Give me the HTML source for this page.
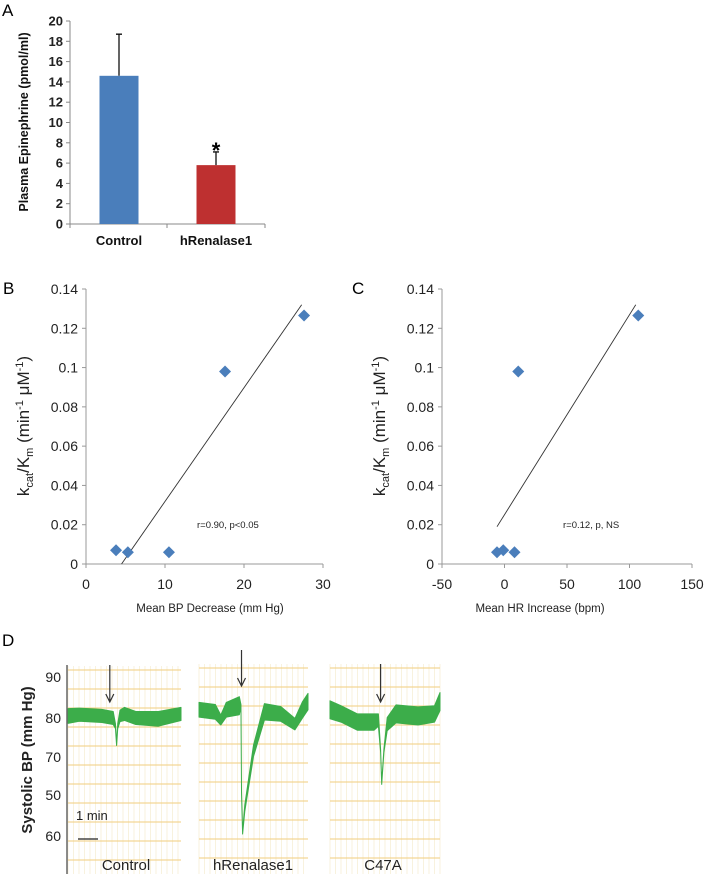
<!DOCTYPE html>
<html><head><meta charset="utf-8"><style>
html,body{margin:0;padding:0;background:#fff;}
svg{display:block;font-family:"Liberation Sans",Arial,sans-serif;}
</style></head><body>
<svg id="fig" width="707" height="874" viewBox="0 0 707 874" xmlns="http://www.w3.org/2000/svg">
<text x="2" y="16" font-size="17">A</text>
<text x="3" y="294" font-size="17">B</text>
<text x="352" y="294" font-size="17">C</text>
<text x="2" y="646" font-size="17">D</text>
<g id="pa"></g>
<g id="pb"></g>
<g id="pc"></g>
<g id="pd"></g>
</svg>
<script>
// Panel A data
const aCategories = ["Control", "hRenalase1"];
const aValues = [14.6, 5.8];
const aErrors = [4.1, 1.3];
const aColors = ["#4a7ebb", "#be3030"];
const aTicks = [0, 2, 4, 6, 8, 10, 12, 14, 16, 18, 20];
// Panel B data
const bX = [3.8, 5.3, 10.5, 17.6, 27.6];
const bY = [0.007, 0.006, 0.006, 0.098, 0.1265];
const bXTicks = [0, 10, 20, 30];
const bFit = [[4.5, 0], [27.3, 0.132]];
// Panel C data
const cX = [-6, -1, 8, 11, 107];
const cY = [0.006, 0.007, 0.006, 0.098, 0.1265];
const cXTicks = [-50, 0, 50, 100, 150];
const cFit = [[-6, 0.019], [105, 0.132]];
const yTicksBC = [0, 0.02, 0.04, 0.06, 0.08, 0.1, 0.12, 0.14];
// Panel D data (time fraction, mmHg centre, mmHg band half-width)
const dLabels = ["Control", "hRenalase1", "C47A"];
const dTicks = [90, 80, 70, 50, 60];
const dTrace0T = [0, 0.1, 0.3, 0.4, 0.42, 0.43, 0.44, 0.46, 0.5, 0.6, 0.8, 1];
const dTrace0V = [80.5, 80.8, 80.5, 80, 78, 73.5, 78, 80.5, 81, 80, 79.8, 81];
const dTrace0W = [1.8, 1.6, 1.6, 1.6, 0.6, 0.2, 0.6, 1.4, 1.6, 1.6, 1.8, 1.6];
const dTrace1T = [0, 0.15, 0.2, 0.25, 0.37, 0.385, 0.39, 0.4, 0.42, 0.5, 0.6, 0.75, 0.88, 0.95, 1];
const dTrace1V = [82, 81.5, 79.5, 82, 83, 83, 62, 52, 58, 72, 81.5, 81, 78.5, 82, 84];
const dTrace1W = [1.8, 1.8, 1.2, 1.8, 2.2, 0.3, 0.2, 0.3, 0.8, 1.4, 2, 1.8, 1.4, 2, 2];
const dTrace2T = [0, 0.1, 0.25, 0.4, 0.44, 0.46, 0.47, 0.49, 0.52, 0.6, 0.8, 0.95, 1];
const dTrace2V = [82, 81, 79, 79, 79.5, 72, 64, 72, 78.5, 81, 80.5, 81, 84];
const dTrace2W = [2.2, 2, 2, 2, 1.5, 0.3, 0.2, 0.4, 1.6, 2.2, 2.2, 2, 2.2];

const NS = "http://www.w3.org/2000/svg";
function mk(parent, tag, attrs, text) {
  const e = document.createElementNS(NS, tag);
  for (const k in attrs) e.setAttribute(k, attrs[k]);
  if (text !== undefined) e.textContent = text;
  parent.appendChild(e);
  return e;
}

// ---- Panel A ----
(function () {
  const g = document.getElementById("pa");
  const x0 = 70, y0 = 224, yTop = 21, xEnd = 265;
  const ys = v => y0 - (v / 20) * (y0 - yTop);
  let e = mk(g, "line", { x1: x0, y1: yTop, x2: x0, y2: y0, stroke: "#888", "stroke-width": 1 });
   
  e = mk(g, "line", { x1: x0, y1: y0, x2: xEnd, y2: y0, stroke: "#888", "stroke-width": 1 });
   
  aTicks.forEach(t => {
    mk(g, "line", { x1: x0 - 4, y1: ys(t), x2: x0, y2: ys(t), stroke: "#888" });
    const l = mk(g, "text", { x: x0 - 7, y: ys(t) + 4.5, "font-size": 13, "font-weight": "bold", "text-anchor": "end", fill: "#222" }, t);
     
  });
  [x0, 167, xEnd].forEach(x => mk(g, "line", { x1: x, y1: y0, x2: x, y2: y0 + 4, stroke: "#888" }));
  const centers = [119, 216];
  aCategories.forEach((c, i) => {
    const cx = centers[i], w = 39;
    const b = mk(g, "rect", { x: cx - w / 2, y: ys(aValues[i]), width: w, height: y0 - ys(aValues[i]), fill: aColors[i] });
     
    const top = ys(aValues[i] + aErrors[i]);
    const eb = mk(g, "path", { d: `M${cx} ${ys(aValues[i])}V${top}M${cx - 3} ${top}H${cx + 3}`, stroke: "#111", "stroke-width": 1.3, fill: "none" });
     
    const l = mk(g, "text", { x: cx, y: 245, "font-size": 13, "font-weight": "bold", "text-anchor": "middle", fill: "#111" }, c);
     
  });
  const s = mk(g, "text", { x: 216, y: 158, "font-size": 22, "font-weight": "bold", "text-anchor": "middle" }, "*");
   
  const t = mk(g, "text", { transform: "translate(28,122) rotate(-90)", "font-size": 12.5, "font-weight": "bold", "text-anchor": "middle", fill: "#111" }, "Plasma Epinephrine (pmol/ml)");
   
})();

// ---- Panels B & C ----
function scatter(id, xAxis0, xAxis1, xmin, xmax, xs, ysData, xTicks, fit, note, noteX, xTitle, titleX) {
  const g = document.getElementById(id);
  const yTop = 289, y0 = 564;
  const sx = v => xAxis0 + (v - xmin) / (xmax - xmin) * (xAxis1 - xAxis0);
  const sy = v => y0 - v / 0.14 * (y0 - yTop);
  let e = mk(g, "line", { x1: xAxis0, y1: yTop, x2: xAxis0, y2: y0, stroke: "#999" });
   
  e = mk(g, "line", { x1: xAxis0, y1: y0, x2: xAxis1, y2: y0, stroke: "#999" });
   
  yTicksBC.forEach(t => {
    mk(g, "line", { x1: xAxis0 - 4, y1: sy(t), x2: xAxis0, y2: sy(t), stroke: "#999" });
    const l = mk(g, "text", { x: xAxis0 - 8, y: sy(t) + 5, "font-size": 14, "text-anchor": "end", fill: "#222" }, t);
     
  });
  xTicks.forEach(t => {
    mk(g, "line", { x1: sx(t), y1: y0, x2: sx(t), y2: y0 + 4, stroke: "#999" });
    const l = mk(g, "text", { x: sx(t), y: 589, "font-size": 14, "text-anchor": "middle", fill: "#222" }, t);
     
  });
  const fl = mk(g, "line", { x1: sx(fit[0][0]), y1: sy(fit[0][1]), x2: sx(fit[1][0]), y2: sy(fit[1][1]), stroke: "#333", "stroke-width": 0.9 });
   
  xs.forEach((x, i) => {
    const cx = sx(x), cy = sy(ysData[i]), r = 6;
    const p = mk(g, "polygon", { points: `${cx},${cy - r} ${cx + r},${cy} ${cx},${cy + r} ${cx - r},${cy}`, fill: "#4a7ebb" });
     
  });
  const n = mk(g, "text", { x: noteX, y: 528, "font-size": 9.5, fill: "#222" }, note);
   
  const xt = mk(g, "text", { x: titleX, y: 612, "font-size": 11.5, "text-anchor": "middle", fill: "#222" }, xTitle);
   
  const yt = mk(g, "text", { transform: `translate(${xAxis0 - 57},426) rotate(-90)`, "font-size": 17, "text-anchor": "middle", fill: "#222" });
   
  yt.innerHTML = 'k<tspan font-size="11" dy="4">cat</tspan><tspan dy="-4">/K</tspan><tspan font-size="11" dy="4">m</tspan><tspan dy="-4"> (min</tspan><tspan font-size="11" dy="-6">-1</tspan><tspan dy="6"> μM</tspan><tspan font-size="11" dy="-6">-1</tspan><tspan dy="6">)</tspan>';
}
scatter("pb", 86, 323, 0, 30, bX, bY, bXTicks, bFit, "r=0.90, p<0.05", 197, "Mean BP Decrease (mm Hg)", 210);
scatter("pc", 442, 692, -50, 150, cX, cY, cXTicks, cFit, "r=0.12, p, NS", 563, "Mean HR Increase (bpm)", 540);

// ---- Panel D ----
(function () {
  const g = document.getElementById("pd");
  const panels = [[68, 181, 666], [199, 308, 664], [330, 440, 664]];
  const sv = v => 718 - (v - 80) * 4.1;
  const traces = [[dTrace0T, dTrace0V, dTrace0W], [dTrace1T, dTrace1V, dTrace1W], [dTrace2T, dTrace2V, dTrace2W]];
  const arrows = [0.37, 0.39, 0.46];
  const arrowTop = [665, 650, 664];
  const arrowBot = [702, 686, 702];
  panels.forEach((p, i) => {
    const [xa, xb, yt] = p;
    const grp = mk(g, "g", {});
     
    for (let x = xa; x <= xb; x += 5.5) mk(grp, "line", { x1: x, y1: yt, x2: x, y2: 874, stroke: "#f6efd6", "stroke-width": 0.8 });
    for (let y = yt + 4; y <= 874; y += 19) mk(grp, "line", { x1: xa, y1: y, x2: xb, y2: y, stroke: "#f2cd7e", "stroke-width": 1 });
    const [T, V, W] = traces[i];
    const up = T.map((t, k) => `${xa + t * (xb - xa)},${sv(V[k] + W[k])}`);
    const dn = T.map((t, k) => `${xa + t * (xb - xa)},${sv(V[k] - W[k])}`).reverse();
    const tr = mk(grp, "polygon", { points: up.concat(dn).join(" "), fill: "#3cad4a", stroke: "#3cad4a", "stroke-width": 1, "stroke-linejoin": "round" });
     
    const ax = xa + arrows[i] * (xb - xa), ay = arrowBot[i];
    const ar = mk(grp, "path", { d: `M${ax} ${arrowTop[i]}V${ay}M${ax - 4} ${ay - 8}L${ax} ${ay}L${ax + 4} ${ay - 8}`, stroke: "#333", fill: "none", "stroke-width": 1.2 });
     
    const lx = [126, 253, 383][i];
    const l = mk(g, "text", { x: lx, y: 870, "font-size": 15, "text-anchor": "middle", fill: "#222" }, dLabels[i]);
     
  });
  mk(g, "line", { x1: 67, y1: 665, x2: 67, y2: 874, stroke: "#666", "stroke-width": 1.5 });
  const tickY = [677, 718, 757, 795, 836];
  dTicks.forEach((t, i) => {
    const l = mk(g, "text", { x: 61, y: tickY[i] + 5, "font-size": 14, "text-anchor": "end", fill: "#222" }, t);
     
  });
  const yt = mk(g, "text", { transform: "translate(32,760) rotate(-90)", "font-size": 15, "font-weight": "bold", "text-anchor": "middle", fill: "#222" }, "Systolic BP (mm Hg)");
   
  const sb = mk(g, "line", { x1: 78, y1: 839, x2: 98, y2: 839, stroke: "#222", "stroke-width": 1.2 });
   
  const st = mk(g, "text", { x: 76, y: 820, "font-size": 13, fill: "#222" }, "1 min");
   
})();
</script>
</body></html>
